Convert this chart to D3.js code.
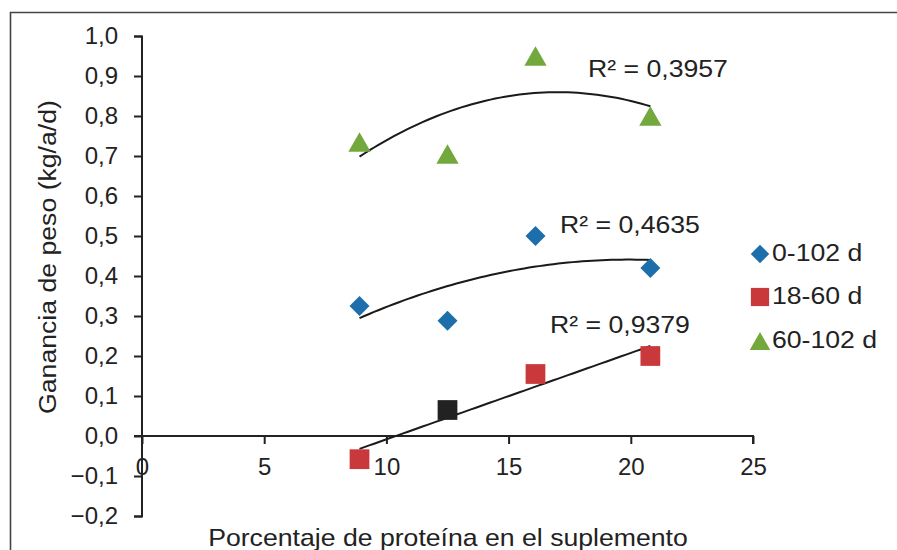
<!DOCTYPE html>
<html><head><meta charset="utf-8">
<script src="https://cdn.jsdelivr.net/npm/d3@7"></script>
<style>body{margin:0;background:#fff}svg{display:block}text{font-family:"Liberation Sans",Arial,sans-serif;fill:#222}</style>
</head><body><svg id="c" width="897" height="550"></svg>
<script>
const protein = [8.9, 12.5, 16.1, 20.8];
const gain0_102 = [0.325, 0.288, 0.50, 0.42];
const gain18_60 = [-0.058, 0.065, 0.155, 0.20];
const gain60_102 = [0.735, 0.705, 0.95, 0.80];
const seriesNames = ["0-102 d", "18-60 d", "60-102 d"];
const seriesColors = ["#1d6fab", "#c9383a", "#73a83c"];
const highlightIndex = 1; // black square in 18-60 d
const r2Labels = ["R² = 0,4635", "R² = 0,9379", "R² = 0,3957"];
const xTicks = [0, 5, 10, 15, 20, 25];
const yTicks = [-0.2,-0.1,0,0.1,0.2,0.3,0.4,0.5,0.6,0.7,0.8,0.9,1.0];

const svg = d3.select("#c");
const x = d3.scaleLinear().domain([0,25]).range([142,753]);
const y = d3.scaleLinear().domain([-0.2,1.0]).range([516,36]);
const fmt = d => d3.format(".1f")(d).replace(".", ",");
const SX = 1.11;

// frame
svg.append("path").attr("d","M10.5,560 V12.5 H900").attr("fill","none").attr("stroke","#444").attr("stroke-width",1.6);

// y axis
const ya = svg.append("g").attr("transform","translate(142,0)").call(d3.axisLeft(y).tickValues(yTicks).tickFormat(fmt).tickSize(8).tickPadding(16));
ya.select(".domain").attr("stroke","#222").attr("stroke-width",2).attr("d","M-8,36.5H0V516.5H-8");
ya.selectAll(".tick line").attr("stroke","#222").attr("stroke-width",2);
ya.selectAll(".tick text").attr("font-size",24).attr("fill","#222").attr("font-family","Liberation Sans, Arial, sans-serif");

// x axis along y=0
const xa = svg.append("g").attr("transform",`translate(0,${y(0)})`).call(d3.axisBottom(x).tickValues(xTicks).tickSize(8).tickPadding(14));
xa.select(".domain").attr("stroke","#222").attr("stroke-width",2).attr("d",`M134,0H${x(25)}V8`);
xa.selectAll(".tick line").attr("stroke","#222").attr("stroke-width",2);
xa.selectAll(".tick text").attr("font-size",24).attr("fill","#222").attr("font-family","Liberation Sans, Arial, sans-serif");

// titles
svg.append("text").attr("transform",`translate(448,546) scale(${SX},1)`).attr("text-anchor","middle").attr("font-size",24).text("Porcentaje de proteína en el suplemento");
svg.append("text").attr("transform",`translate(56,257) rotate(-90) scale(${SX},1)`).attr("text-anchor","middle").attr("font-size",24).text("Ganancia de peso (kg/a/d)");

// fits
function polyfit(xs, ys, deg){
  const n = deg+1;
  const A = Array.from({length:n},()=>Array(n+1).fill(0));
  xs.forEach((xi,k)=>{
    for(let i=0;i<n;i++){ for(let j=0;j<n;j++) A[i][j]+=Math.pow(xi,i+j); A[i][n]+=ys[k]*Math.pow(xi,i); }
  });
  for(let i=0;i<n;i++){
    let p=i; for(let r=i+1;r<n;r++) if(Math.abs(A[r][i])>Math.abs(A[p][i])) p=r;
    [A[i],A[p]]=[A[p],A[i]];
    for(let r=0;r<n;r++){ if(r===i) continue; const f=A[r][i]/A[i][i]; for(let c=i;c<=n;c++) A[r][c]-=f*A[i][c]; }
  }
  const coef = A.map((row,i)=>row[n]/row[i]);
  return t => coef.reduce((s,c,i)=>s+c*Math.pow(t,i),0);
}
const fits = [polyfit(protein,gain0_102,2), polyfit(protein,gain18_60,1), polyfit(protein,gain60_102,2)];
const line = d3.line().x(d=>x(d[0])).y(d=>y(d[1]));
const xmin = d3.min(protein), xmax = d3.max(protein);
fits.forEach(f=>{
  const pts = d3.range(0,61).map(i=>{const t=xmin+(xmax-xmin)*i/60; return [t,f(t)];});
  svg.append("path").attr("d",line(pts)).attr("fill","none").attr("stroke","#1a1a1a").attr("stroke-width",2);
});

// markers
const symSizes = [200, 390, 215];
function sym(i, legend){
  const k = legend ? 0.85 : 1;
  const t = i===2 ? d3.symbolTriangle : d3.symbolSquare;
  return d3.symbol().type(t).size(symSizes[i]*k)();
}
// offset so the triangle's bounding box is centred on the data point
function triOff(i, legend){
  if(i!==2) return 0;
  const k = legend ? 0.85 : 1;
  return Math.sqrt(symSizes[2]*k/(3*Math.sqrt(3)))/2;
}
function markTransform(i, px, py, legend){
  return `translate(${px},${py + triOff(i,legend)})${i===0?" rotate(45)":""}`;
}
const allSeries = [gain0_102, gain18_60, gain60_102];
allSeries.forEach((vals,si)=>{
  svg.append("g").selectAll("path").data(vals).join("path")
    .attr("d",sym(si))
    .attr("transform",(d,i)=>markTransform(si, x(protein[i]), y(d), false))
    .attr("fill",(d,i)=> (si===1 && i===highlightIndex) ? "#222" : seriesColors[si]);
});

// R2 labels
const r2Pos = [[560,233],[550,333],[588,77]];
r2Labels.forEach((t,i)=>svg.append("text").attr("transform",`translate(${r2Pos[i][0]},${r2Pos[i][1]}) scale(${SX},1)`).attr("font-size",24).text(t));

// legend
const leg = svg.append("g");
const legY = [254, 297, 341];
seriesNames.forEach((nm,i)=>{
  const cy = legY[i];
  leg.append("path").attr("d",sym(i,true)).attr("transform",markTransform(i,760,cy,true)).attr("fill",seriesColors[i]);
  leg.append("text").attr("transform",`translate(772,${cy+7}) scale(${SX},1)`).attr("font-size",24).text(nm);
});
</script></body></html>
